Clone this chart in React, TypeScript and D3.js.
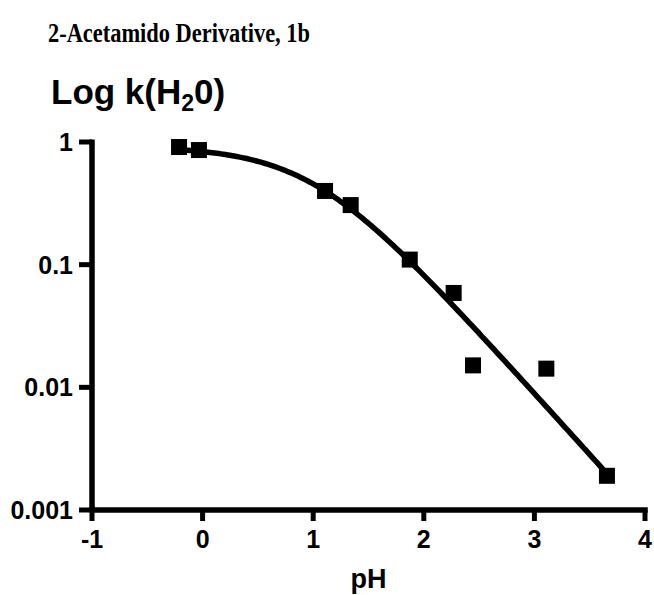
import React from "react";
import * as d3 from "d3";

const pH = [-0.213, -0.033, 1.107, 1.339, 1.873, 2.27, 2.445, 3.108, 3.656];
const kObs = [0.91, 0.86, 0.399, 0.306, 0.11, 0.0588, 0.0151, 0.0142, 0.0019];
const xTicks = [-1, 0, 1, 2, 3, 4];
const yTicks = [1, 0.1, 0.01, 0.001];
const yTickLabels = ["1", "0.1", "0.01", "0.001"];
const fitK0 = 0.92;
const fitPKa = 0.99;

export default function App() {
  const W = 654, H = 595;
  const x = d3.scaleLinear().domain([-1, 4]).range([92, 645]);
  const y = d3.scaleLog().domain([0.001, 1]).range([510, 142]);
  const fitX = d3.range(pH[0], pH[pH.length - 1] + 0.0001, 0.02);
  const fit = fitX.map((p) => [p, fitK0 / (1 + Math.pow(10, p - fitPKa))] as [number, number]);
  const line = d3.line<[number, number]>().x((d) => x(d[0])).y((d) => y(d[1]));
  const sans = "'Liberation Sans', Arial, sans-serif";
  return (
    <svg width={W} height={H} style={{ position: "absolute", left: 0, top: 0, background: "#fff" }}>
      <text x={48} y={42} fontFamily="'Liberation Serif', 'Times New Roman', serif" fontWeight="bold" fontSize={27}
        textLength={262} lengthAdjust="spacingAndGlyphs">
        2-Acetamido Derivative, 1b
      </text>
      <text x={51} y={104} fontFamily={sans} fontWeight="bold" fontSize={35}>
        Log k(H<tspan fontSize={23} dy={7}>2</tspan><tspan dy={-7}>0)</tspan>
      </text>
      {/* axes */}
      <line x1={x(-1)} x2={x(-1)} y1={y(1) - 2.5} y2={y(0.001)} stroke="#000" strokeWidth={5.5} />
      <line x1={x(-1) - 2.75} x2={x(4) + 2.75} y1={y(0.001)} y2={y(0.001)} stroke="#000" strokeWidth={5.5} />
      {yTicks.map((t, i) => (
        <g key={"y" + i}>
          <line x1={x(-1) - 13} x2={x(-1)} y1={y(t)} y2={y(t)} stroke="#000" strokeWidth={5} />
          <text x={x(-1) - 19} y={y(t)} dy="0.36em" textAnchor="end" fontFamily={sans} fontWeight="bold" fontSize={25}>
            {yTickLabels[i]}
          </text>
        </g>
      ))}
      {xTicks.map((t, i) => (
        <g key={"x" + i}>
          <line x1={x(t)} x2={x(t)} y1={y(0.001)} y2={y(0.001) + 11} stroke="#000" strokeWidth={5} />
          <text x={x(t)} y={548} textAnchor="middle" fontFamily={sans} fontWeight="bold" fontSize={25}>
            {t}
          </text>
        </g>
      ))}
      <text x={(x(-1) + x(4)) / 2} y={588} textAnchor="middle" fontFamily={sans} fontWeight="bold" fontSize={27}>
        pH
      </text>
      <path d={line(fit) || ""} fill="none" stroke="#000" strokeWidth={5.5} />
      {pH.map((p, i) => (
        <rect key={"p" + i} x={x(p) - 8} y={y(kObs[i]) - 8} width={16} height={16} fill="#000" />
      ))}
    </svg>
  );
}
